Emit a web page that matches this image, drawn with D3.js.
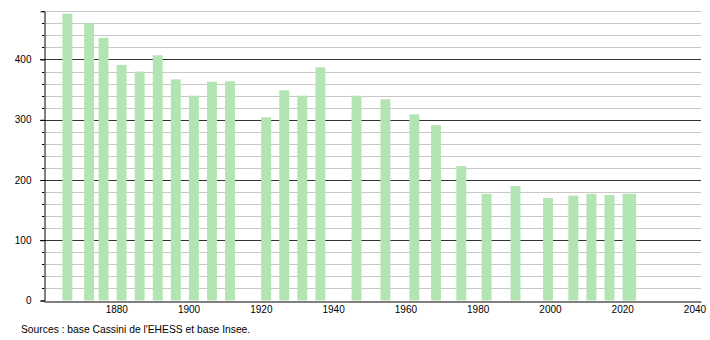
<!DOCTYPE html>
<html>
<head>
<meta charset="utf-8">
<script src="https://cdn.jsdelivr.net/npm/d3@7"></script>
<style>
  html, body { margin: 0; padding: 0; background: #fff; }
  svg { display: block; }
  text { font-family: "Liberation Sans", Arial, sans-serif; }
</style>
</head>
<body>
<svg id="chart" width="710" height="340"></svg>
<script>
const years = [1866, 1872, 1876, 1881, 1886, 1891, 1896, 1901, 1906, 1911,
               1921, 1926, 1931, 1936, 1946, 1954, 1962, 1968, 1975, 1982,
               1990, 1999, 2006, 2011, 2016, 2021, 2022];
const population = [476, 460, 436, 391, 380, 407, 367, 340, 363, 364,
                    304, 349, 340, 387, 340, 334, 309, 291, 223, 177,
                    190, 170, 174, 177, 175, 177, 177];
const xTicks = [1880, 1900, 1920, 1940, 1960, 1980, 2000, 2020, 2040];
const yMajorTicks = [0, 100, 200, 300, 400];
const yMinorTicks = d3.range(0, 481, 20);
const sourceText = "Sources : base Cassini de l'EHESS et base Insee.";

const svg = d3.select("#chart");
const mLeft = 44, mRight = 701, mTop = 11.3, mBottom = 300.5;

const x = d3.scaleLinear().domain([1860, 2041.8]).range([mLeft, mRight]);
const y = d3.scaleLinear().domain([0, 480]).range([mBottom, mTop]);

// minor gridlines
svg.append("g").selectAll("line").data(yMinorTicks.filter(v => v % 100 !== 0)).join("line")
  .attr("x1", mLeft).attr("x2", mRight)
  .attr("y1", d => Math.round(y(d)) + 0.5).attr("y2", d => Math.round(y(d)) + 0.5)
  .attr("stroke", "#c8c8c8").attr("stroke-width", 1);

// major gridlines
svg.append("g").selectAll("line").data(yMajorTicks.filter(v => v > 0)).join("line")
  .attr("x1", mLeft - 4).attr("x2", mRight)
  .attr("y1", d => Math.round(y(d)) + 0.5).attr("y2", d => Math.round(y(d)) + 0.5)
  .attr("stroke", "#333").attr("stroke-width", 1);

// bars
svg.append("g").selectAll("rect").data(years.map((yr, i) => ({ yr, v: population[i] }))).join("rect")
  .attr("x", d => x(d.yr - 0.9))
  .attr("width", d => x(d.yr + 1.85) - x(d.yr - 0.9))
  .attr("y", d => y(d.v))
  .attr("height", d => y(0) - y(d.v))
  .attr("fill", "#b3e5b3");

// y axis
const yAxis = d3.axisLeft(y).tickValues(yMajorTicks).tickSize(4).tickPadding(9);
const gy = svg.append("g").attr("transform", `translate(${mLeft + 0.5},0)`).call(yAxis);
gy.select(".domain").attr("stroke", "#000");
gy.selectAll(".tick line").attr("stroke", "#000");
gy.selectAll(".tick text").attr("font-size", 10).attr("fill", "#000")
  .attr("font-family", "'Liberation Sans', Arial, sans-serif");
// minor y ticks
svg.append("g").selectAll("line").data(yMinorTicks.filter(v => v % 100 !== 0)).join("line")
  .attr("x1", mLeft - 2).attr("x2", mLeft)
  .attr("y1", d => Math.round(y(d)) + 0.5).attr("y2", d => Math.round(y(d)) + 0.5)
  .attr("stroke", "#000");

// x axis
const xAxis = d3.axisBottom(x).tickValues(xTicks).tickFormat(d3.format("d")).tickSize(0).tickPadding(4);
const gx = svg.append("g").attr("transform", `translate(0,${Math.round(mBottom) + 0.5})`).call(xAxis);
gx.select(".domain").attr("stroke", "#000");
gx.selectAll(".tick text").attr("font-size", 10).attr("fill", "#000")
  .attr("font-family", "'Liberation Sans', Arial, sans-serif");

// source
svg.append("text").attr("x", 21).attr("y", 333)
  .attr("font-size", 10.3).attr("fill", "#000")
  .text(sourceText);
</script>
</body>
</html>
